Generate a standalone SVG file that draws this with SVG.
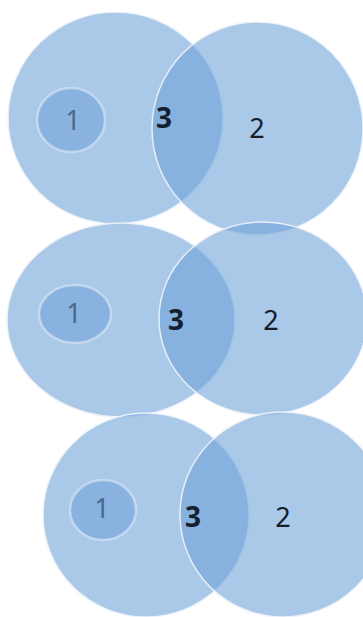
<svg xmlns="http://www.w3.org/2000/svg" width="363" height="617" viewBox="0 0 363 617">
  <style>
    .set { fill: #6ea1d8; fill-opacity: 0.59; stroke: #eef4fb; stroke-width: 1.5; stroke-opacity: 0.9; }
    .sub { fill: #6ea1d8; fill-opacity: 0.55; stroke: #d3e3f4; stroke-width: 2.5; stroke-opacity: 0.7; }
    .lbl { font-family: "Noto Sans", "Liberation Sans", sans-serif; font-size: 27px; text-anchor: middle; }
    .l1 { fill: #4b6886; }
    .l2 { fill: #15202e; }
    .l3 { fill: #15202e; font-weight: bold; font-size: 28px; }
  </style>
  <rect width="363" height="617" fill="#ffffff"/>
  <g id="connectors"/>

  <!-- Row 1 -->
  <g id="row1">
    <g id="row1-set-left"><ellipse class="set" cx="115.5" cy="118" rx="107.5" ry="106"/></g>
    <g id="row1-set-right"><ellipse class="set" cx="257.5" cy="128.5" rx="105.5" ry="106.5"/></g>
    <g id="row1-subset-1"><ellipse class="sub" cx="71" cy="120" rx="34" ry="32"/><text class="lbl l1" x="73" y="130">1</text></g>
    <g id="row1-intersection-3"><text class="lbl l3" x="164" y="128">3</text></g>
    <g id="row1-label-2"><text class="lbl l2" x="257" y="138">2</text></g>
  </g>

  <!-- Row 2 -->
  <g id="row2">
    <g id="row2-set-left"><ellipse class="set" cx="121" cy="320" rx="114" ry="97"/></g>
    <g id="row2-set-right"><ellipse class="set" cx="263" cy="318.5" rx="104" ry="96.5"/></g>
    <g id="row2-subset-1"><ellipse class="sub" cx="75" cy="314" rx="36" ry="29"/><text class="lbl l1" x="74" y="323">1</text></g>
    <g id="row2-intersection-3"><text class="lbl l3" x="176" y="330">3</text></g>
    <g id="row2-label-2"><text class="lbl l2" x="271" y="330">2</text></g>
  </g>

  <!-- Row 3 -->
  <g id="row3">
    <g id="row3-set-left"><ellipse class="set" cx="146" cy="515" rx="103" ry="102"/></g>
    <g id="row3-set-right"><ellipse class="set" cx="283" cy="514.5" rx="103" ry="102.5"/></g>
    <g id="row3-subset-1"><ellipse class="sub" cx="103" cy="510" rx="33" ry="30"/><text class="lbl l1" x="102" y="518">1</text></g>
    <g id="row3-intersection-3"><text class="lbl l3" x="193" y="527">3</text></g>
    <g id="row3-label-2"><text class="lbl l2" x="283" y="527">2</text></g>
  </g>
</svg>
